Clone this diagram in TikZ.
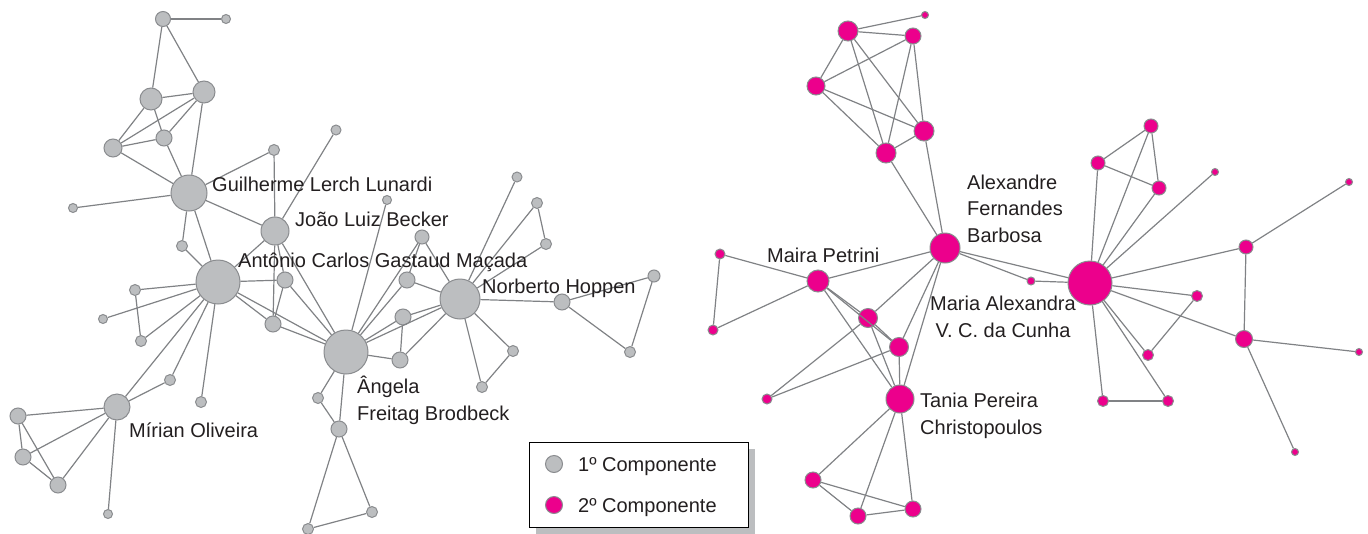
\documentclass[tikz,border=0pt]{standalone}
\usepackage{fontspec}
\setmainfont{Liberation Sans}

\definecolor{gfill}{HTML}{BCBEC0}
\definecolor{pfill}{HTML}{EC008C}
\definecolor{rim}{HTML}{8A8C8F}
\definecolor{wirecol}{HTML}{808285}
\definecolor{ink}{HTML}{231F20}

\tikzset{
  gnode/.style={circle, draw=rim, line width=1pt, fill=gfill, inner sep=0pt, minimum size=#1pt},
  pnode/.style={circle, draw=rim, line width=1pt, fill=pfill, inner sep=0pt, minimum size=#1pt},
  link/.style={draw=wirecol, line width=1.2pt},
  lbl/.style={inner sep=0pt, text=ink, font=\fontsize{20}{26.5}\selectfont},
}

\begin{document}
\begin{tikzpicture}[x=1pt,y=-1pt]
\useasboundingbox (0,0) rectangle (1368,533);

% 1o componente
\node[gnode=15] (l1) at (163,19) {};
\node[gnode=9]  (l2) at (226,19) {};
\node[gnode=22] (l3) at (151,99) {};
\node[gnode=22] (l4) at (204,92) {};
\node[gnode=16] (l5) at (164,138) {};
\node[gnode=18] (l6) at (113,148) {};
\node[gnode=11] (l7) at (274,150) {};
\node[gnode=10] (l8) at (336,130) {};
\node[gnode=36] (gu) at (189,193) {};
\node[gnode=9]  (l9) at (73,208) {};
\node[gnode=28] (jo) at (275,231) {};
\node[gnode=11] (l10) at (182,246) {};
\node[gnode=44] (an) at (218,282) {};
\node[gnode=16] (l11) at (285,280) {};
\node[gnode=11] (l12) at (135,290) {};
\node[gnode=9]  (l13) at (103,319) {};
\node[gnode=11] (l14) at (141,341) {};
\node[gnode=16] (l15) at (273,324) {};
\node[gnode=44] (ag) at (346,352) {};
\node[gnode=9]  (l16) at (387,200) {};
\node[gnode=14] (l17) at (422,237) {};
\node[gnode=16] (l18) at (407,280) {};
\node[gnode=16] (l19) at (403,317) {};
\node[gnode=16] (l20) at (400,360) {};
\node[gnode=40] (no) at (460,299) {};
\node[gnode=16] (l21) at (562,302) {};
\node[gnode=12] (l22) at (654,276) {};
\node[gnode=11] (l23) at (546,244) {};
\node[gnode=11] (l24) at (537,203) {};
\node[gnode=10] (l25) at (517,177) {};
\node[gnode=11] (l26) at (513,351) {};
\node[gnode=11] (l27) at (482,387) {};
\node[gnode=11] (l28) at (630,352) {};
\node[gnode=11] (l29) at (318,398) {};
\node[gnode=16] (l30) at (339,429) {};
\node[gnode=11] (l31) at (308,529) {};
\node[gnode=11] (l32) at (372,512) {};
\node[gnode=26] (mi) at (117,407) {};
\node[gnode=11] (l33) at (170,380) {};
\node[gnode=11] (l34) at (201,402) {};
\node[gnode=16] (l35) at (18,416) {};
\node[gnode=16] (l36) at (23,457) {};
\node[gnode=16] (l37) at (58,485) {};
\node[gnode=9]  (l38) at (108,514) {};

\foreach \a/\b in {l1/l2, l1/l3, l1/l4, l3/l4, l3/l6, l3/l5, l4/l6, l4/l5, l6/l5,
    l6/gu, l5/gu, l4/gu, l7/gu, l7/jo, l8/jo, gu/l9, gu/jo, gu/l10, l10/an, gu/an,
    jo/an, jo/l15, jo/ag, jo/l11, an/l11, an/l12, an/l13, an/l14, l12/l14, an/l15,
    l11/l15, l15/ag, an/ag, l11/ag, l16/ag, l17/ag, l17/l18, l17/no, l18/no, l18/ag,
    l19/ag, l19/no, l19/l20, l20/ag, l20/no, ag/no, no/l21, l21/l22, l21/l28, l22/l28,
    no/l23, l23/l24, l24/no, l25/no, no/l26, no/l27, l26/l27, ag/l29, l29/l30, ag/l30,
    l30/l31, l30/l32, l31/l32, an/mi, an/l33, an/l34, mi/l33, mi/l35, mi/l36, mi/l37,
    mi/l38, l35/l36, l35/l37, l36/l37}
  \draw[link] (\a) -- (\b);

% 2o componente
\node[pnode=20] (r1) at (848,31) {};
\node[pnode=7]  (r2) at (925,15) {};
\node[pnode=16] (r3) at (913,36) {};
\node[pnode=18] (r4) at (816,86) {};
\node[pnode=20] (r5) at (924,131) {};
\node[pnode=20] (r6) at (886,153) {};
\node[pnode=30] (ab) at (945,248) {};
\node[pnode=22] (mp) at (818,281) {};
\node[pnode=10] (r7) at (720,254) {};
\node[pnode=10] (r8) at (713,330) {};
\node[pnode=19] (r9) at (868,318) {};
\node[pnode=19] (r10) at (899,347) {};
\node[pnode=10] (r11) at (767,399) {};
\node[pnode=28] (ta) at (900,399) {};
\node[pnode=16] (r12) at (813,480) {};
\node[pnode=16] (r13) at (858,516) {};
\node[pnode=16] (r14) at (913,509) {};
\node[pnode=8]  (r15) at (1031,281) {};
\node[pnode=44] (bn) at (1090,283) {};
\node[pnode=14] (r16) at (1151,126) {};
\node[pnode=14] (r17) at (1098,163) {};
\node[pnode=14] (r18) at (1159,188) {};
\node[pnode=7]  (r19) at (1215,172) {};
\node[pnode=7]  (r20) at (1349,182) {};
\node[pnode=14] (r21) at (1246,247) {};
\node[pnode=11] (r22) at (1197,296) {};
\node[pnode=17] (r23) at (1244,339) {};
\node[pnode=7]  (r24) at (1359,352) {};
\node[pnode=11] (r25) at (1148,355) {};
\node[pnode=11] (r26) at (1103,401) {};
\node[pnode=11] (r27) at (1168,401) {};
\node[pnode=7]  (r28) at (1295,452) {};

\foreach \a/\b in {r1/r2, r1/r3, r1/r4, r1/r6, r1/r5, r3/r4, r3/r6, r3/r5, r4/r6,
    r4/r5, r6/r5, r6/ab, r5/ab, r7/mp, r7/r8, r8/mp, mp/ab, mp/r9, mp/r10, r9/ab,
    r10/ab, r9/r10, ab/ta, r10/ta, r9/ta, mp/ta, r9/r11, r10/r11, ta/r12, ta/r13,
    ta/r14, r12/r13, r12/r14, r13/r14, ab/r15, r15/bn, ab/bn, r16/r17, r16/r18,
    r17/r18, r17/bn, r16/bn, r18/bn, r19/bn, bn/r21, r21/r20, r21/r23, bn/r22,
    bn/r23, r23/r24, r23/r28, r22/r25, bn/r25, bn/r27, bn/r26, r26/r27}
  \draw[link] (\a) -- (\b);

% nomes
\node[lbl, anchor=base west] (tguil) at (212,191) {Guilherme Lerch Lunardi};
\node[lbl, anchor=base west] (tjoao) at (295,226) {João Luiz Becker};
\node[lbl, anchor=base west] (tanto) at (238,267) {Antônio Carlos Gastaud Maçada};
\node[lbl, anchor=base west] (tnorb) at (482,293) {Norberto Hoppen};
\node[lbl, anchor=base west, align=left] (tang) at (357,420) {Ângela\\Freitag Brodbeck};
\node[lbl, anchor=base west] (tmir) at (129,437) {Mírian Oliveira};
\node[lbl, anchor=base west, align=left] (talex) at (967,242) {Alexandre\\Fernandes\\Barbosa};
\node[lbl, anchor=base west] (tmaira) at (767,262) {Maira Petrini};
\node[lbl, anchor=base, align=center] (tmaria) at (1003,337) {Maria Alexandra\\V. C. da Cunha};
\node[lbl, anchor=base west, align=left] (ttania) at (920,434) {Tania Pereira\\Christopoulos};

% legenda
\fill[gfill] (536,449) rectangle (755,534);
\draw[black, fill=white, line width=1pt] (529,442) rectangle (748,527);
\node[gnode=17] (key1) at (554,464) {};
\node[lbl, anchor=base west] (tkey1) at (578,471) {1º Componente};
\node[pnode=17] (key2) at (554,505) {};
\node[lbl, anchor=base west] (tkey2) at (578,512) {2º Componente};

\end{tikzpicture}
\end{document}
